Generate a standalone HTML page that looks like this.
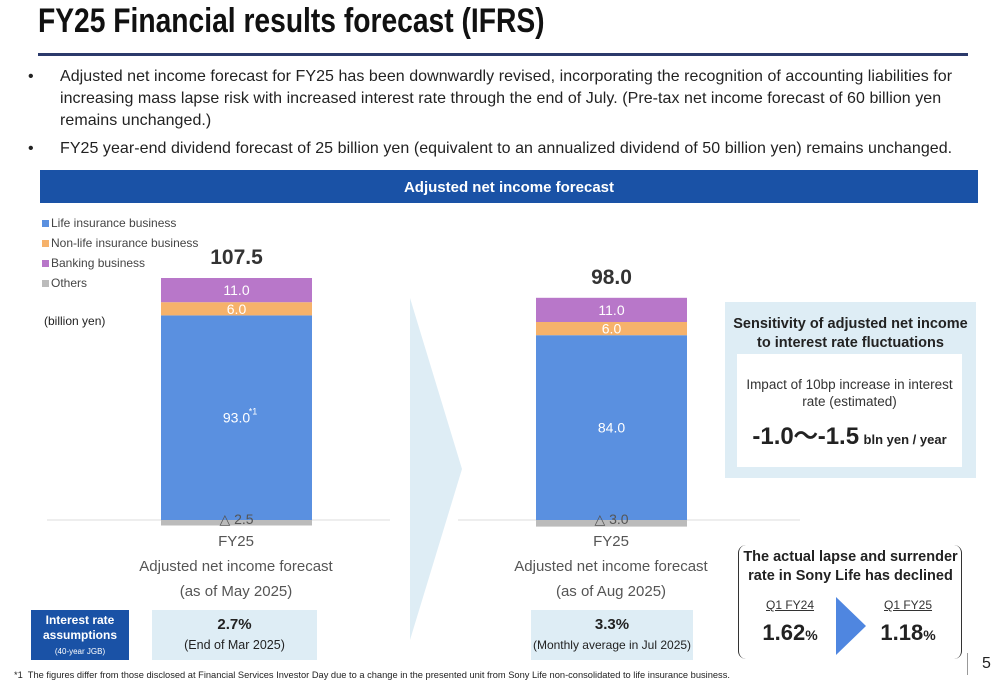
<!DOCTYPE html>
<html><head><meta charset="utf-8"><style>
body{margin:0;width:1000px;height:685px;background:#fff;font-family:"Liberation Sans",sans-serif;position:relative;overflow:hidden;color:#222}
.a{position:absolute}
.c{text-align:center}
</style></head><body>
<div class="a" style="left:38px;top:2px;font-size:34px;font-weight:bold;color:#111;transform:scaleX(0.83);transform-origin:left;white-space:nowrap">FY25 Financial results forecast (IFRS)</div>
<div class="a" style="left:38px;top:53px;width:930px;height:3px;background:#2b3a6b"></div>
<div class="a" style="left:28px;top:66px;width:942px;font-size:16px;line-height:22px;color:#222;letter-spacing:0.05px"><span style="position:absolute;left:0">•</span><div style="margin-left:32px">Adjusted net income forecast for FY25 has been downwardly revised, incorporating the recognition of accounting liabilities for increasing mass lapse risk with increased interest rate through the end of July. (Pre-tax net income forecast of 60 billion yen remains unchanged.)</div></div>
<div class="a" style="left:28px;top:138px;width:950px;font-size:16px;line-height:22px;letter-spacing:0.05px"><span style="position:absolute;left:0">•</span><div style="margin-left:32px">FY25 year-end dividend forecast of 25 billion yen (equivalent to an annualized dividend of 50 billion yen) remains unchanged.</div></div>
<div class="a c" style="left:40px;top:170px;width:938px;height:33px;line-height:35px;background:#1a52a6;color:#fff;font-weight:bold;font-size:15px">Adjusted net income forecast</div>

<div class="a" style="left:410px;top:298px;width:52px;height:342px;background:#deedf5;clip-path:polygon(0 0,100% 50%,0 100%)"></div>
<svg class="a" style="left:0;top:0" width="1000" height="685" id="chart"></svg>

<div class="a" style="left:42px;top:213px;font-size:12px;line-height:20px;color:#444">
<div><span style="display:inline-block;width:7px;height:7px;background:#5a90e0;margin-right:2px"></span>Life insurance business</div>
<div><span style="display:inline-block;width:7px;height:7px;background:#f6b26b;margin-right:2px"></span>Non-life insurance business</div>
<div><span style="display:inline-block;width:7px;height:7px;background:#b877c9;margin-right:2px"></span>Banking business</div>
<div><span style="display:inline-block;width:7px;height:7px;background:#bbb;margin-right:2px"></span>Others</div>
</div>
<div class="a" style="left:44px;top:314px;font-size:12px;color:#222">(billion yen)</div>

<div class="a c" style="left:120px;top:529px;width:232px;font-size:15px;line-height:25px;color:#555">FY25<br>Adjusted net income forecast<br>(as of May 2025)</div>
<div class="a c" style="left:495px;top:529px;width:232px;font-size:15px;line-height:25px;color:#555">FY25<br>Adjusted net income forecast<br>(as of Aug 2025)</div>

<div class="a c" style="left:31px;top:610px;width:98px;height:50px;background:#1a52a6;color:#fff;font-size:12px;font-weight:bold;line-height:15px;padding-top:3px;box-sizing:border-box">Interest rate<br>assumptions<br><span style="font-size:8px;font-weight:normal">(40-year JGB)</span></div>
<div class="a c" style="left:152px;top:610px;width:165px;height:50px;background:#deedf5;font-size:12.5px;line-height:20px;padding-top:5px;box-sizing:border-box"><b style="font-size:15px">2.7%</b><br>(End of Mar 2025)</div>
<div class="a c" style="left:531px;top:610px;width:162px;height:50px;background:#deedf5;font-size:12px;line-height:20px;padding-top:5px;box-sizing:border-box;white-space:nowrap"><b style="font-size:15px">3.3%</b><br>(Monthly average in Jul 2025)</div>

<div class="a" style="left:725px;top:302px;width:251px;height:176px;background:#deedf5"></div>
<div class="a c" style="left:725px;top:315px;width:251px;font-size:14.5px;font-weight:bold;line-height:19px">Sensitivity of adjusted net income<br>to interest rate fluctuations</div>
<div class="a c" style="left:737px;top:354px;width:225px;height:113px;background:#fff">
<div style="font-size:13.5px;line-height:17px;margin-top:22px;color:#333">Impact of 10bp increase in interest<br>rate (estimated)</div>
<div style="margin-top:6px;font-weight:bold"><span style="font-size:24px">-1.0〜-1.5</span> <span style="font-size:13px">bln yen / year</span></div></div>

<div class="a" style="left:738px;top:545px;width:222px;height:114px;border-left:1.5px solid #333;border-right:1.5px solid #333;border-radius:8px"></div>
<div class="a c" style="left:738px;top:548px;width:225px;font-size:14.5px;font-weight:bold;line-height:19px">The actual lapse and surrender<br>rate in Sony Life has declined</div>
<div class="a c" style="left:755px;top:598px;width:70px;font-size:12px;text-decoration:underline;color:#333">Q1 FY24</div>
<div class="a c" style="left:873px;top:598px;width:70px;font-size:12px;text-decoration:underline;color:#333">Q1 FY25</div>
<div class="a c" style="left:745px;top:620px;width:90px;font-size:22px;font-weight:bold">1.62<span style="font-size:14px">%</span></div>
<div class="a c" style="left:863px;top:620px;width:90px;font-size:22px;font-weight:bold">1.18<span style="font-size:14px">%</span></div>
<div class="a" style="left:836px;top:597px;width:30px;height:58px;background:#4f86e0;clip-path:polygon(0 0,100% 50%,0 100%)"></div>
<div class="a" style="left:967px;top:653px;width:1px;height:22px;background:#999"></div>
<div class="a" style="left:982px;top:655px;font-size:16px">5</div>
<div class="a" style="left:14px;top:670px;font-size:9.3px;color:#222">*1&nbsp; The figures differ from those disclosed at Financial Services Investor Day due to a change in the presented unit from Sony Life non-consolidated to life insurance business.</div>

<script>
const categories=["May 2025","Aug 2025"];
const life=[93.0,84.0];
const nonlife=[6.0,6.0];
const banking=[11.0,11.0];
const others=[-2.5,-3.0];
const totals=[107.5,98.0];
const barX=[161,536];
const baseY=520, k=2.2, bw=151;
const y=v=>baseY-v*k;
const svg=document.getElementById('chart');
const NS="http://www.w3.org/2000/svg";
function rect(x,y0,w,h,fill,name){const r=document.createElementNS(NS,'rect');r.setAttribute('x',x);r.setAttribute('y',y0);r.setAttribute('width',w);r.setAttribute('height',h);r.setAttribute('fill',fill);


svg.appendChild(r);}
function text(x,y0,s,size,fill,weight,name){const t=document.createElementNS(NS,'text');t.setAttribute('x',x);t.setAttribute('y',y0);t.setAttribute('text-anchor','middle');t.setAttribute('font-size',size);t.setAttribute('fill',fill);t.setAttribute('font-weight',weight);t.setAttribute('font-family','Liberation Sans, sans-serif');t.textContent=s;


svg.appendChild(t);}
[[47,390],[458,800]].forEach(s=>{const l=document.createElementNS(NS,'line');l.setAttribute('x1',s[0]);l.setAttribute('x2',s[1]);l.setAttribute('y1',baseY);l.setAttribute('y2',baseY);l.setAttribute('stroke','#ddd');


svg.appendChild(l);});
categories.forEach((c,i)=>{
 const x=barX[i],cx=x+bw/2;
 rect(x,y(life[i]),bw,life[i]*k,'#5a90e0','bar-life');
 rect(x,y(life[i]+nonlife[i]),bw,nonlife[i]*k,'#f6b26b','bar-nonlife');
 rect(x,y(life[i]+nonlife[i]+banking[i]),bw,banking[i]*k,'#b877c9','bar-banking');
 rect(x,baseY,bw,-others[i]*k,'#bbb','bar-others');
 text(cx,y(life[i]/2)+5,life[i].toFixed(1),14,'#fff','normal','label-life');
 text(cx,y(life[i]+nonlife[i]/2)+5,nonlife[i].toFixed(1),14,'#fff','normal','label-nonlife');
 text(cx,y(life[i]+nonlife[i]+banking[i]/2)+5,banking[i].toFixed(1),14,'#fff','normal','label-banking');
 text(cx,baseY+4,'△ '+Math.abs(others[i]).toFixed(1),14,'#555','normal','label-others');
 text(cx,y(life[i]+nonlife[i]+banking[i])-14,totals[i].toFixed(1),21,'#333','bold','label-total');
});
text(253,y(life[0]/2)-3,'*1',9,'#fff','normal','footnote-mark');
</script>
</body></html>
